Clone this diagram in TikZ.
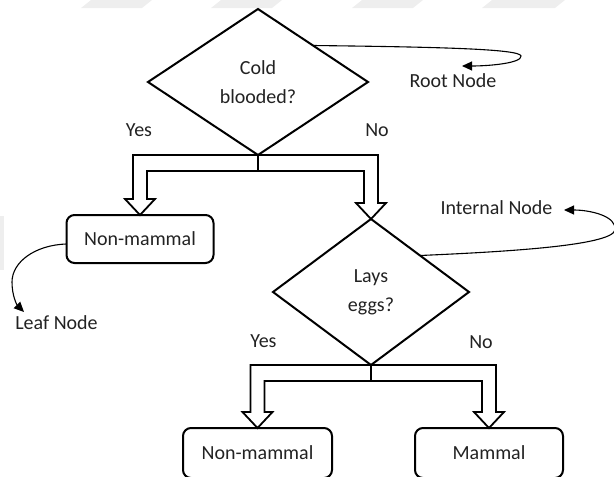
\documentclass[tikz,border=0pt]{standalone}
\usepackage{fontspec}
\setmainfont{Carlito}
\usetikzlibrary{shapes.geometric,arrows.meta,calc}
\definecolor{ink}{HTML}{222222}
\definecolor{wm}{HTML}{EEEEEE}

% hollow split arrow from one node down to two others
\newcommand{\splitarrow}[3]{%
  \draw[fork] let \p1=(#1.south), \p2=(#2.north), \p3=(#3.north) in
    (\x2-7pt,\y1) -- (\x3+7pt,\y1) -- (\x3+7pt,\y3+16pt) -- (\x3+15pt,\y3+16pt) -- (\x3,\y3)
    -- (\x3-15pt,\y3+16pt) -- (\x3-7pt,\y3+16pt) -- (\x3-7pt,\y1-16pt) -- (\x2+7pt,\y1-16pt)
    -- (\x2+7pt,\y2+16pt) -- (\x2+15pt,\y2+16pt) -- (\x2,\y2) -- (\x2-15pt,\y2+16pt)
    -- (\x2-7pt,\y2+16pt) -- cycle
    (\x1,\y1) -- (\x1,\y1-16pt);
}

\begin{document}
\begin{tikzpicture}[x=1pt,y=-1pt,
  txt/.style={font=\fontsize{20}{29}\selectfont, text=ink},
  decision/.style={diamond, draw, line width=2pt, inner sep=0pt, outer sep=0pt, align=center, txt},
  leafbox/.style={rectangle, rounded corners=8pt, draw, line width=2pt, minimum height=48pt,
    inner sep=0pt, outer sep=0pt, txt},
  fork/.style={draw, line width=1.8pt, line join=miter},
  annot/.style={draw, line width=1.1pt, -{Triangle[length=10pt,width=9pt]}},
  lbl/.style={txt, anchor=base, inner sep=0pt}]

\useasboundingbox (0,0) rectangle (614,477);
\clip (0,0) rectangle (614,477);

% faint background marks
\fill[wm] (81,8) -- (91,0) -- (152,0) -- (142,8) -- cycle;
\fill[wm] (211,8) -- (221,0) -- (282,0) -- (272,8) -- cycle;
\fill[wm] (352,8) -- (362,0) -- (423,0) -- (413,8) -- cycle;
\fill[wm] (482,8) -- (492,0) -- (565,0) -- (555,8) -- cycle;
\fill[wm] (0,216) rectangle (3.5,270);

% nodes
\node[decision, minimum width=220pt, minimum height=146pt] (root) at (258,82) {Cold\\blooded?};
\node[leafbox, minimum width=147pt] (nm1) at (140,239) {Non-mammal};
\node[decision, minimum width=196pt, minimum height=146pt] (lays) at (371,292) {Lays\\eggs?};
\node[leafbox, minimum width=149pt, minimum height=50pt] (nm2) at (257.5,453) {Non-mammal};
\node[leafbox, minimum width=148pt, minimum height=50pt] (mam) at (489,453) {Mammal};

% branches
\splitarrow{root}{nm1}{lays}
\splitarrow{lays}{nm2}{mam}

% branch labels
\node[lbl] (y1) at (139,136) {Yes};
\node[lbl] (n1) at (377,136) {No};
\node[lbl] (y2) at (263.5,347) {Yes};
\node[lbl] (n2) at (481,348) {No};

% annotations
\node[lbl] (rootlbl) at (453,87) {Root Node};
\node[lbl] (intlbl) at (496.5,214) {Internal Node};
\node[lbl] (leaflbl) at (56.5,329) {Leaf Node};

\coordinate (roottip) at (462,66);
\coordinate (inttip) at (564,210);
\coordinate (leaftip) at (24,312);

\draw[annot] (root.north east) .. controls (440,47) and (520,49) .. (521,56)
  .. controls (522,63) and (490,66) .. (roottip);
\draw[annot] (lays.north east) .. controls (500,252) and (612,246) .. (615,230)
  .. controls (617,216) and (590,210) .. (inttip);
\draw[annot] ($(nm1.west)+(0,5)$) .. controls (35,245) and (12,262) .. (12,282)
  .. controls (12,296) and (17,305) .. (leaftip);

\end{tikzpicture}
\end{document}
